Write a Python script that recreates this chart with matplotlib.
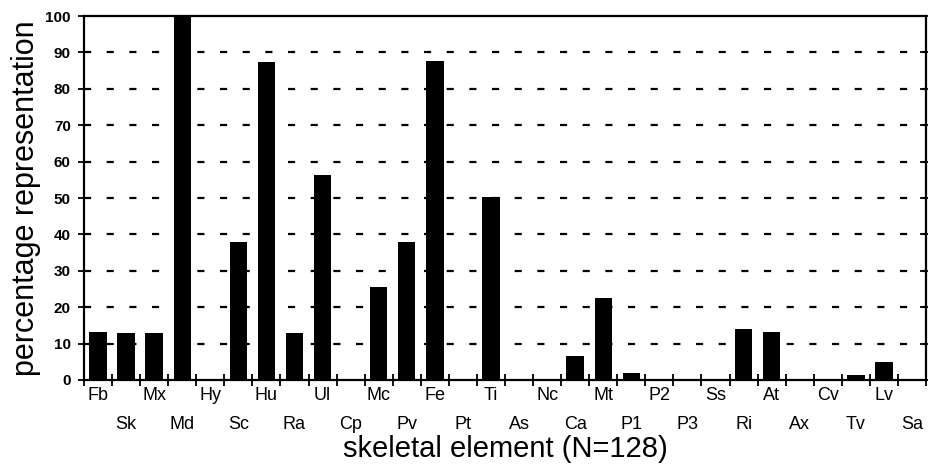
import numpy as np
import matplotlib.pyplot as plt
from matplotlib.ticker import FixedLocator

plt.rcParams['font.family'] = ['Liberation Sans', 'DejaVu Sans']

elements = ["Fb", "Sk", "Mx", "Md", "Hy", "Sc", "Hu", "Ra", "Ul", "Cp",
            "Mc", "Pv", "Fe", "Pt", "Ti", "As", "Nc", "Ca", "Mt", "P1",
            "P2", "P3", "Ss", "Ri", "At", "Ax", "Cv", "Tv", "Lv", "Sa"]
pct = [13.3, 13.0, 13.0, 100.0, 0.0, 37.8, 87.5, 13.0, 56.3, 0.0,
       25.5, 37.8, 87.6, 0.0, 50.2, 0.0, 0.0, 6.7, 22.4, 2.0,
       0.0, 0.0, 0.0, 14.0, 13.2, 0.0, 0.0, 1.4, 4.8, 0.0]
yticks = list(range(0, 101, 10))

fig = plt.figure(figsize=(9.29, 4.72), dpi=100)
ax = fig.add_axes([0.0904, 0.195, 0.9064, 0.771])

x = np.arange(len(elements))
ax.bar(x, pct, width=0.62, color="black", zorder=3)

ax.set_xlim(-0.5, len(elements) - 0.5)
ax.set_ylim(0, 100)

# dashed grid lines
for v in yticks[1:-1]:
    ax.axhline(v, color="black", lw=1.6, ls=(0, (3.2, 7.0)), zorder=1)

# labels at centres, staggered in two rows
labels = [e if i % 2 == 0 else "\n" + e for i, e in enumerate(elements)]
ax.set_xticks(x)
ax.set_xticklabels(labels, fontsize=13, linespacing=1.95)
ax.tick_params(axis="x", which="major", length=0, pad=5)
ax.xaxis.set_minor_locator(FixedLocator(np.arange(-0.5, len(elements), 1)))
ax.tick_params(axis="x", which="minor", direction="inout", length=9, width=1.3)

ax.set_yticks(yticks)
ax.set_yticklabels([str(v) for v in yticks], fontsize=11, fontweight="bold")
ax.tick_params(axis="y", direction="inout", length=9, width=1.3, pad=5,
               right=True)

for s in ax.spines.values():
    s.set_linewidth(1.6)

ax.set_ylabel("percentage representation", fontsize=22, labelpad=3)
ax.set_xlabel("skeletal element (N=128)", fontsize=21, labelpad=1)

fig.savefig("out.png", dpi=100)
